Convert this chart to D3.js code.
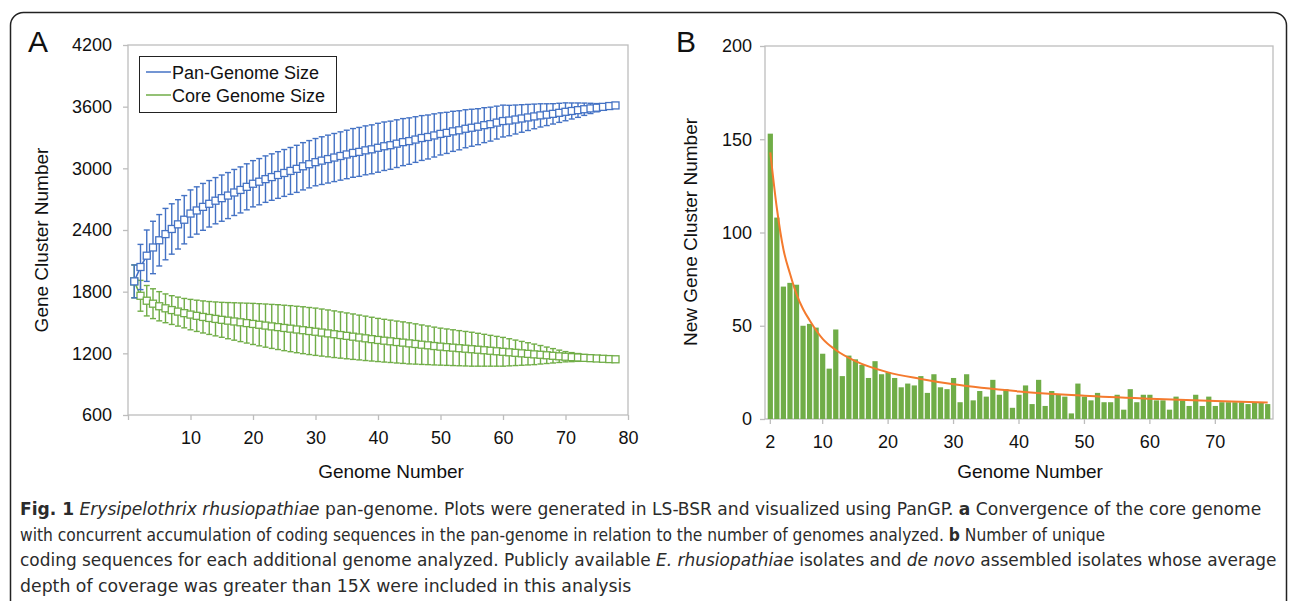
<!DOCTYPE html>
<html>
<head>
<meta charset="utf-8">
<script src="https://cdn.jsdelivr.net/npm/d3@7"></script>
<style>
    body { margin: 0; background: #ffffff; }
    svg { display: block; }
</style>
</head>
<body>
<svg id="fig" width="1290" height="601"></svg>
<script>
// ---- panel A : pan / core genome size (genomes 1..78) ----
var genomesA = d3.range(1, 79);
var panMean = [1900, 2040, 2150, 2230, 2300, 2360, 2410, 2455, 2500, 2560,
    2590, 2625, 2655, 2685, 2710, 2735, 2765, 2790, 2820, 2850,
    2870, 2895, 2915, 2935, 2955, 2975, 2995, 3020, 3040, 3060,
    3075, 3090, 3105, 3120, 3135, 3150, 3160, 3175, 3185, 3200,
    3215, 3225, 3240, 3255, 3265, 3280, 3295, 3305, 3320, 3335,
    3345, 3360, 3370, 3385, 3395, 3405, 3420, 3430, 3445, 3460,
    3465, 3475, 3485, 3495, 3505, 3515, 3522, 3530, 3540, 3550,
    3558, 3566, 3575, 3583, 3590, 3598, 3606, 3612];
var panErr = [160, 220, 250, 255, 250, 250, 245, 240, 235, 230,
    230, 228, 226, 225, 225, 224, 224, 224, 224, 225,
    225, 226, 226, 227, 228, 228, 229, 230, 230, 230,
    232, 233, 234, 235, 236, 237, 238, 238, 238, 238,
    236, 234, 232, 229, 226, 222, 218, 214, 210, 205,
    200, 195, 190, 185, 180, 175, 170, 165, 160, 155,
    148, 141, 134, 127, 120, 113, 106, 99, 93, 87,
    78, 70, 60, 50, 40, 28, 15, 0];
var coreMean = [1900, 1760, 1712, 1683, 1658, 1638, 1621, 1606, 1591, 1577,
    1565, 1554, 1544, 1535, 1526, 1518, 1510, 1502, 1494, 1486,
    1478, 1470, 1462, 1455, 1447, 1440, 1432, 1425, 1417, 1410,
    1402, 1394, 1386, 1378, 1370, 1362, 1354, 1346, 1338, 1330,
    1323, 1317, 1310, 1304, 1297, 1291, 1284, 1278, 1271, 1265,
    1260, 1255, 1250, 1245, 1240, 1235, 1230, 1225, 1220, 1215,
    1210, 1205, 1200, 1195, 1190, 1186, 1181, 1176, 1171, 1167,
    1163, 1160, 1156, 1153, 1150, 1147, 1144, 1142];
var coreErr = [160, 150, 148, 145, 142, 140, 140, 141, 143, 148,
    152, 156, 160, 165, 170, 176, 182, 188, 194, 200,
    205, 210, 214, 218, 221, 224, 226, 228, 229, 230,
    229, 228, 227, 225, 223, 221, 218, 216, 213, 210,
    208, 206, 204, 202, 200, 196, 192, 188, 184, 180,
    177, 174, 171, 168, 165, 160, 155, 150, 145, 140,
    132, 124, 116, 108, 100, 90, 80, 70, 60, 50,
    44, 38, 32, 26, 20, 13, 7, 0];
var yTicksA = [600, 1200, 1800, 2400, 3000, 3600, 4200];
var xTicksA = [0, 10, 20, 30, 40, 50, 60, 70, 80];
var seriesA = ["Pan-Genome Size", "Core Genome Size"];

// ---- panel B : new gene clusters (genomes 2..78) ----
var genomesB = d3.range(2, 79);
var newGenes = [153, 108, 71, 73, 72, 50, 51, 49, 35, 27,
    48, 23, 34, 32, 29, 22, 31, 24, 25, 22,
    17, 19, 18, 23, 14, 24, 17, 16, 22, 9,
    24, 10, 15, 12, 21, 13, 16, 6, 13, 18,
    8, 21, 7, 15, 13, 12, 3, 19, 12, 10,
    14, 9, 9, 13, 5, 16, 9, 13, 13, 10,
    10, 5, 12, 10, 7, 13, 7, 12, 7, 9,
    9, 9, 9, 8, 9, 9, 8];
var trendGenome = [2, 3, 4, 5, 6, 7, 8, 10, 12, 15, 20, 25, 30, 40, 50, 60, 70, 78];
var trendValue = [143, 113, 91, 78, 67, 59, 53, 43, 37, 31, 25, 21.5, 18.6, 14.8, 12.5, 10.9, 9.6, 8.8];
var yTicksB = [0, 50, 100, 150, 200];
var xTicksB = [2, 10, 20, 30, 40, 50, 60, 70];

var BLUE = "#4472c4", GREEN = "#70ad47", ORANGE = "#f47a2e";
var AXIS_GREY = "#bdbdbd";
var FONT = "'Liberation Sans', Arial, sans-serif";

var svg = d3.select("#fig");

/*
 * outer rounded frame of the figure
 */
function renderFrame(svg) {
    svg.append("rect")
        .attr("x", 10.5)
        .attr("y", 12.5)
        .attr("width", 1276)
        .attr("height", 640)
        .attr("rx", 13)
        .attr("fill", "none")
        .attr("stroke", "#222")
        .attr("stroke-width", 1.5);
}

/*
 * styles an axis group: grey lines, black labels
 */
function styleAxis(g) {
    g.select(".domain").remove();
    g.selectAll(".tick line").attr("stroke", AXIS_GREY).attr("stroke-width", 1.3);
    g.selectAll(".tick text")
        .attr("fill", "#111")
        .attr("font-family", FONT)
        .attr("font-size", 18);
}

/*
 * panel A: error bars, mean lines, hollow squares and legend
 */
function renderPanelA(svg) {
    var x = d3.scaleLinear().domain([0, 80]).range([128, 628]);
    var y = d3.scaleLinear().domain([600, 4200]).range([415, 45]);

    var g = svg.append("g");

    // plot frame
    g.append("rect")
        .attr("x", x(0)).attr("y", y(4200))
        .attr("width", x(80) - x(0)).attr("height", y(600) - y(4200))
        .attr("fill", "none").attr("stroke", AXIS_GREY).attr("stroke-width", 1.3);

    g.append("g")
        .attr("transform", "translate(" + x(0) + ",0)")
        .call(d3.axisLeft(y).tickValues(yTicksA).tickSize(5).tickPadding(11)
            .tickFormat(d3.format("d")))
        .call(styleAxis);

    g.append("g")
        .attr("transform", "translate(0," + y(600) + ")")
        .call(d3.axisBottom(x).tickValues(xTicksA).tickSize(5).tickPadding(11)
            .tickFormat(function(d) { return d === 0 ? "" : d; }))
        .call(styleAxis);

    var series = [
        { mean: coreMean, err: coreErr, color: GREEN },
        { mean: panMean, err: panErr, color: BLUE }
    ];

    series.forEach(function(s) {
        var pts = genomesA.map(function(n, i) { return { n: n, m: s.mean[i], e: s.err[i] }; });
        var sg = g.append("g");

        // error bars with caps
        var eb = sg.selectAll(".eb").data(pts).enter().append("g");
        eb.append("line")
            .attr("x1", function(d) { return x(d.n); })
            .attr("x2", function(d) { return x(d.n); })
            .attr("y1", function(d) { return y(d.m - d.e); })
            .attr("y2", function(d) { return y(d.m + d.e); });
        eb.append("line")
            .attr("x1", function(d) { return x(d.n) - 3; })
            .attr("x2", function(d) { return x(d.n) + 3; })
            .attr("y1", function(d) { return y(d.m + d.e); })
            .attr("y2", function(d) { return y(d.m + d.e); });
        eb.append("line")
            .attr("x1", function(d) { return x(d.n) - 3; })
            .attr("x2", function(d) { return x(d.n) + 3; })
            .attr("y1", function(d) { return y(d.m - d.e); })
            .attr("y2", function(d) { return y(d.m - d.e); });
        eb.selectAll("line").attr("stroke", s.color).attr("stroke-width", 1.4);

        // mean line
        sg.append("path")
            .datum(pts)
            .attr("fill", "none")
            .attr("stroke", s.color)
            .attr("stroke-width", 1.6)
            .attr("d", d3.line().x(function(d) { return x(d.n); }).y(function(d) { return y(d.m); }));

        // hollow square markers
        sg.selectAll(".sq").data(pts).enter().append("rect")
            .attr("x", function(d) { return x(d.n) - 3.5; })
            .attr("y", function(d) { return y(d.m) - 3.5; })
            .attr("width", 7)
            .attr("height", 7)
            .attr("fill", "#fff")
            .attr("stroke", s.color)
            .attr("stroke-width", 1.3);
    });

    // legend
    var lg = g.append("g");
    lg.append("rect")
        .attr("x", 139.5).attr("y", 56.5).attr("width", 197).attr("height", 56)
        .attr("fill", "#fff").attr("stroke", "#222").attr("stroke-width", 1);
    var item = lg.selectAll(".li").data(seriesA).enter().append("g")
        .attr("transform", function(d, i) { return "translate(146," + (72 + i * 23) + ")"; });
    item.append("line")
        .attr("x1", 0).attr("x2", 25).attr("y1", 0).attr("y2", 0)
        .attr("stroke", function(d, i) { return i === 0 ? BLUE : GREEN; })
        .attr("stroke-width", 1.5);
    item.append("text")
        .attr("x", 26).attr("y", 6.5)
        .attr("font-family", FONT).attr("font-size", 18).attr("fill", "#111")
        .text(function(d) { return d; });

    // axis titles
    g.append("text")
        .attr("x", 391).attr("y", 478)
        .attr("text-anchor", "middle")
        .attr("font-family", FONT).attr("font-size", 19).attr("fill", "#111")
        .text("Genome Number");
    g.append("text")
        .attr("transform", "translate(48,240) rotate(-90)")
        .attr("text-anchor", "middle")
        .attr("font-family", FONT).attr("font-size", 19).attr("fill", "#111")
        .text("Gene Cluster Number");

    g.append("text")
        .attr("x", 28).attr("y", 52)
        .attr("font-family", FONT).attr("font-size", 30).attr("fill", "#111")
        .text("A");
}

/*
 * panel B: bars of new gene clusters plus the orange fitted curve
 */
function renderPanelB(svg) {
    var x = d3.scaleBand().domain(genomesB).range([767.7, 1270.3]).paddingInner(0.2);
    var y = d3.scaleLinear().domain([0, 200]).range([419, 46]);

    var g = svg.append("g");

    g.append("rect")
        .attr("x", 765).attr("y", y(200))
        .attr("width", 1273 - 765).attr("height", y(0) - y(200))
        .attr("fill", "none").attr("stroke", AXIS_GREY).attr("stroke-width", 1.3);

    g.append("g")
        .attr("transform", "translate(765,0)")
        .call(d3.axisLeft(y).tickValues(yTicksB).tickSize(5).tickPadding(8))
        .call(styleAxis);

    g.append("g")
        .attr("transform", "translate(0," + y(0) + ")")
        .call(d3.axisBottom(x).tickValues(xTicksB).tickSize(5).tickPadding(11))
        .call(styleAxis);

    // bars
    g.selectAll(".bar").data(genomesB).enter().append("rect")
        .attr("x", function(d) { return x(d); })
        .attr("y", function(d, i) { return y(newGenes[i]); })
        .attr("width", x.bandwidth())
        .attr("height", function(d, i) { return y(0) - y(newGenes[i]); })
        .attr("fill", GREEN);

    // fitted curve
    var trend = trendGenome.map(function(n, i) { return { n: n, v: trendValue[i] }; });
    g.append("path")
        .datum(trend)
        .attr("fill", "none")
        .attr("stroke", ORANGE)
        .attr("stroke-width", 2)
        .attr("d", d3.line().curve(d3.curveMonotoneX)
            .x(function(d) { return x(d.n) + x.bandwidth() / 2; })
            .y(function(d) { return y(d.v); }));

    g.append("text")
        .attr("x", 1030).attr("y", 478)
        .attr("text-anchor", "middle")
        .attr("font-family", FONT).attr("font-size", 19).attr("fill", "#111")
        .text("Genome Number");
    g.append("text")
        .attr("transform", "translate(697,232) rotate(-90)")
        .attr("text-anchor", "middle")
        .attr("font-family", FONT).attr("font-size", 19).attr("fill", "#111")
        .text("New Gene Cluster Number");

    g.append("text")
        .attr("x", 676).attr("y", 52)
        .attr("font-family", FONT).attr("font-size", 30).attr("fill", "#111")
        .text("B");
}

/*
 * figure caption, four lines with bold / italic runs;
 * each line is squeezed horizontally to the width it has in the figure
 */
var captionLines = [
    { width: 1242, parts: [["Fig. 1", "b"], [" ", ""], ["Erysipelothrix rhusiopathiae", "i"],
        [" pan-genome. Plots were generated in LS-BSR and visualized using PanGP. ", ""], ["a", "b"],
        [" Convergence of the core genome", ""]] },
    { width: 1086, parts: [["with concurrent accumulation of coding sequences in the pan-genome in relation to the number of genomes analyzed. ", ""],
        ["b", "b"], [" Number of unique", ""]] },
    { width: 1258, parts: [["coding sequences for each additional genome analyzed. Publicly available ", ""],
        ["E. rhusiopathiae", "i"], [" isolates and ", ""], ["de novo", "i"],
        [" assembled isolates whose average", ""]] },
    { width: 612, parts: [["depth of coverage was greater than 15X were included in this analysis", ""]] }
];

function renderCaption(svg) {
    var g = svg.append("g");
    captionLines.forEach(function(line, i) {
        var t = g.append("text")
            .attr("x", 0)
            .attr("y", 0)
            .attr("font-family", "'Liberation Sans Narrow', 'DejaVu Sans Condensed', 'Open Sans', sans-serif")
            .attr("font-size", 18.5)
            .attr("fill", "#2b2b2b");
        line.parts.forEach(function(p) {
            t.append("tspan")
                .attr("font-weight", p[1] === "b" ? "bold" : "normal")
                .attr("font-style", p[1] === "i" ? "italic" : "normal")
                .text(p[0]);
        });
        var natural = t.node().getComputedTextLength();
        t.attr("transform", "translate(20," + (515 + i * 25.7) + ") scale(" + (line.width / natural) + ",1)");
    });
}

renderFrame(svg);
renderPanelA(svg);
renderPanelB(svg);
renderCaption(svg);
</script>
</body>
</html>
